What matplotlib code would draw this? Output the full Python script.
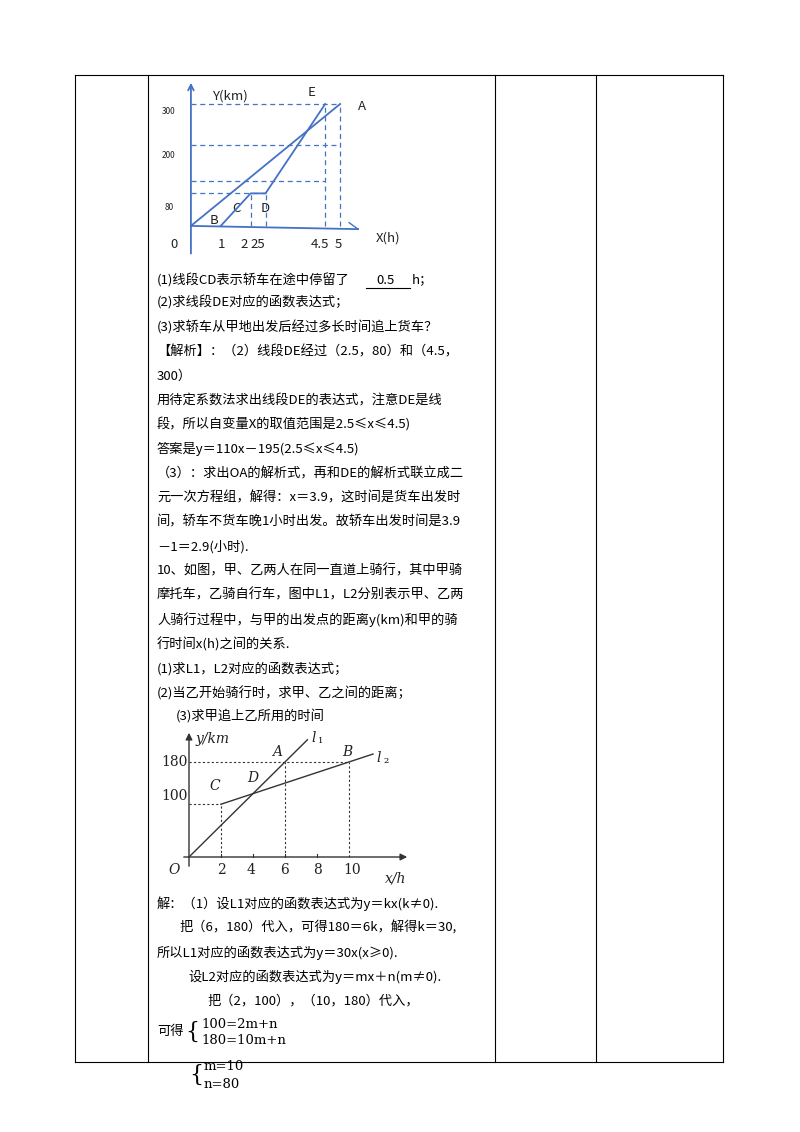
import matplotlib
matplotlib.use("Agg")
import matplotlib.pyplot as plt

plt.rcParams['font.family'] = ['Noto Sans CJK SC', 'DejaVu Sans']
W, H = 800, 1132
fig = plt.figure(figsize=(8, 11.32), dpi=100)
bg = fig.add_axes([0, 0, 1, 1])
bg.set_xlim(0, W); bg.set_ylim(H, 0); bg.axis('off')

# table
col_x = [75, 148, 495, 596, 723]
top_y, bot_y = 75, 1062
bg.plot([75, 723], [top_y, top_y], color='black', lw=0.8)
bg.plot([75, 723], [bot_y, bot_y], color='black', lw=0.8)
for cx in col_x:
    bg.plot([cx, cx], [top_y, bot_y], color='black', lw=0.8)

BLUE = '#4472c4'

def px_axes(x0, x1, y_top, y_bot):
    return fig.add_axes([x0 / W, 1 - y_bot / H, (x1 - x0) / W, (y_bot - y_top) / H])

# ---- chart 1 ----
oa_x = [0, 5]; oa_y = [0, 300]
bcde_x = [1, 2, 2.5, 4.5]; bcde_y = [0, 80, 80, 300]
h_dash = [(300, 5), (200, 5), (110, 4.5), (80, 2.5)]
v_dash = [(2, 80), (2.5, 80), (4.5, 300), (5, 300)]
ax1 = px_axes(176, 364, 80, 258)
ax1.set_xlim(-0.5, 5.8); ax1.set_ylim(-79, 359); ax1.axis('off')
ax1.plot(oa_x, oa_y, color=BLUE, lw=1.3)
ax1.plot(bcde_x, bcde_y, color=BLUE, lw=1.3)
for yv, xe in h_dash:
    ax1.plot([0, xe], [yv, yv], color=BLUE, lw=0.9, ls=(0, (4, 3)))
for xv, ye in v_dash:
    ax1.plot([xv, xv], [0, ye], color=BLUE, lw=0.9, ls=(0, (4, 3)))
ax1.plot([0, 5.6], [0, -8], color=BLUE, lw=1.3)
ax1.plot([5.3, 5.6], [8, -8], color=BLUE, lw=1.0)
ax1.annotate('', xy=(0, 359), xytext=(0, -75), arrowprops=dict(arrowstyle='->', color=BLUE, lw=1.3))

t1 = [("Y(km)", 212, 96, 9.5), ("E", 308, 92, 9.5), ("A", 358, 106, 9.5), ("300", 162, 111, 6),
      ("200", 162, 155, 6), ("80", 165, 207, 6), ("B", 210, 221, 9.5), ("C", 232, 208, 9.5),
      ("D", 261, 209, 9.5), ("X(h)", 376, 238, 9.5), ("0", 170, 244, 9.5), ("1", 218, 244, 9.5),
      ("2", 240, 244, 9.5), ("25", 250, 244, 9.5), ("4.5", 311, 244, 9.5), ("5", 335, 244, 9.5)]
for s, x, y, fs in t1:
    bg.text(x, y, s, fontsize=fs, va='center', ha='left', color='#222222')

# ---- chart 2 ----
l1_x = [0, 7.4]; l1_y = [0, 222]
l2_x = [2, 11.5]; l2_y = [100, 195]
ax2 = px_axes(189 - 0.5 * 16, 410, 730, 857 + 12)
ax2.set_xlim(-0.5, (410 - 189) / 16); ax2.set_ylim(-12 / 0.528, (857 - 730) / 0.528); ax2.axis('off')
ax2.plot(l1_x, l1_y, color='#333333', lw=1.0)
ax2.plot(l2_x, l2_y, color='#333333', lw=1.0)
for (xa, ya, xb, yb) in [(0, 180, 10, 180), (0, 100, 2, 100), (2, 0, 2, 100), (6, 0, 6, 180), (10, 0, 10, 180)]:
    ax2.plot([xa, xb], [ya, yb], color='#333333', lw=0.8, ls=(0, (2, 2)))
ax2.annotate('', xy=((410 - 189) / 16, 0), xytext=(-0.5, 0), arrowprops=dict(arrowstyle='-|>', color='#333333', lw=1))
ax2.annotate('', xy=(0, (857 - 730) / 0.528), xytext=(0, -12 / 0.528), arrowprops=dict(arrowstyle='-|>', color='#333333', lw=1))
for xv in [2, 4, 6, 8]:
    ax2.plot([xv, xv], [0, 6], color='#333333', lw=0.8)
t2 = [("y/km", 196, 739, 'italic'), ("l", 311, 738, 'italic'), ("l", 376, 758, 'italic'),
      ("A", 272, 752, 'italic'), ("B", 342, 752, 'italic'), ("D", 247, 778, 'italic'),
      ("C", 209, 786, 'italic'), ("180", 161, 762, 'normal'), ("100", 161, 796, 'normal'),
      ("O", 168, 870, 'italic'), ("2", 217, 870, 'normal'), ("4", 247, 870, 'normal'),
      ("6", 280, 870, 'normal'), ("8", 313, 870, 'normal'), ("10", 343, 870, 'normal'),
      ("x/h", 385, 878, 'italic')]
for s, x, y, st in t2:
    bg.text(x, y, s, fontsize=10, va='center', ha='left', family='DejaVu Serif', style=st, color='#222222')
bg.text(318, 743, "1", fontsize=6, family='DejaVu Serif')
bg.text(383, 763, "2", fontsize=6, family='DejaVu Serif')

# ---- body text ----
FS = 9.5
lines = [
    (157, 303, "(2)求线段DE对应的函数表达式；"),
    (157, 327, "(3)求轿车从甲地出发后经过多长时间追上货车？"),
    (157, 352, "【解析】：（2）线段DE经过（2.5，80）和（4.5，"),
    (157, 376, "300）"),
    (157, 401, "用待定系数法求出线段DE的表达式，注意DE是线"),
    (157, 425, "段，所以自变量X的取值范围是2.5≤x≤4.5)"),
    (157, 449, "答案是y＝110x－195(2.5≤x≤4.5)"),
    (157, 474, "（3）：求出OA的解析式，再和DE的解析式联立成二"),
    (157, 498, "元一次方程组，解得：x＝3.9，这时间是货车出发时"),
    (157, 522, "间，轿车不货车晚1小时出发。故轿车出发时间是3.9"),
    (157, 547, "－1＝2.9(小时)."),
    (157, 571, "10、如图，甲、乙两人在同一直道上骑行，其中甲骑"),
    (157, 595, "摩托车，乙骑自行车，图中L1，L2分别表示甲、乙两"),
    (157, 620, "人骑行过程中，与甲的出发点的距离y(km)和甲的骑"),
    (157, 644, "行时间x(h)之间的关系."),
    (157, 669, "(1)求L1，L2对应的函数表达式；"),
    (157, 693, "(2)当乙开始骑行时，求甲、乙之间的距离；"),
    (176, 717, "(3)求甲追上乙所用的时间"),
    (157, 904, "解：（1）设L1对应的函数表达式为y＝kx(k≠0)."),
    (180, 928, "把（6，180）代入，可得180＝6k，解得k＝30,"),
    (157, 953, "所以L1对应的函数表达式为y＝30x(x≥0)."),
    (188, 977, "设L2对应的函数表达式为y＝mx＋n(m≠0)."),
    (208, 1001, "把（2，100），（10，180）代入，"),
    (157, 1032, "可得"),
]
for x, y, s in lines:
    bg.text(x, y, s, fontsize=FS, va='center', ha='left', color='black')

bg.text(157, 280, "(1)线段CD表示轿车在途中停留了", fontsize=FS, va='center', ha='left')
bg.text(376, 280, "0.5", fontsize=FS, va='center', ha='left')
bg.plot([366, 410], [288, 288], color='black', lw=0.8)
bg.text(412, 280, "h；", fontsize=FS, va='center', ha='left')

bg.text(185, 1032, "{", fontsize=16, va='center', ha='left', family='DejaVu Serif')
bg.text(201, 1024, "100=2m+n", fontsize=9.5, va='center', ha='left', family='DejaVu Serif')
bg.text(201, 1041, "180=10m+n", fontsize=9.5, va='center', ha='left', family='DejaVu Serif')
bg.text(189, 1075, "{", fontsize=16, va='center', ha='left', family='DejaVu Serif')
bg.text(204, 1066, "m=10", fontsize=9.5, va='center', ha='left', family='DejaVu Serif')
bg.text(204, 1084, "n=80", fontsize=9.5, va='center', ha='left', family='DejaVu Serif')

fig.savefig("out.png", dpi=100)
